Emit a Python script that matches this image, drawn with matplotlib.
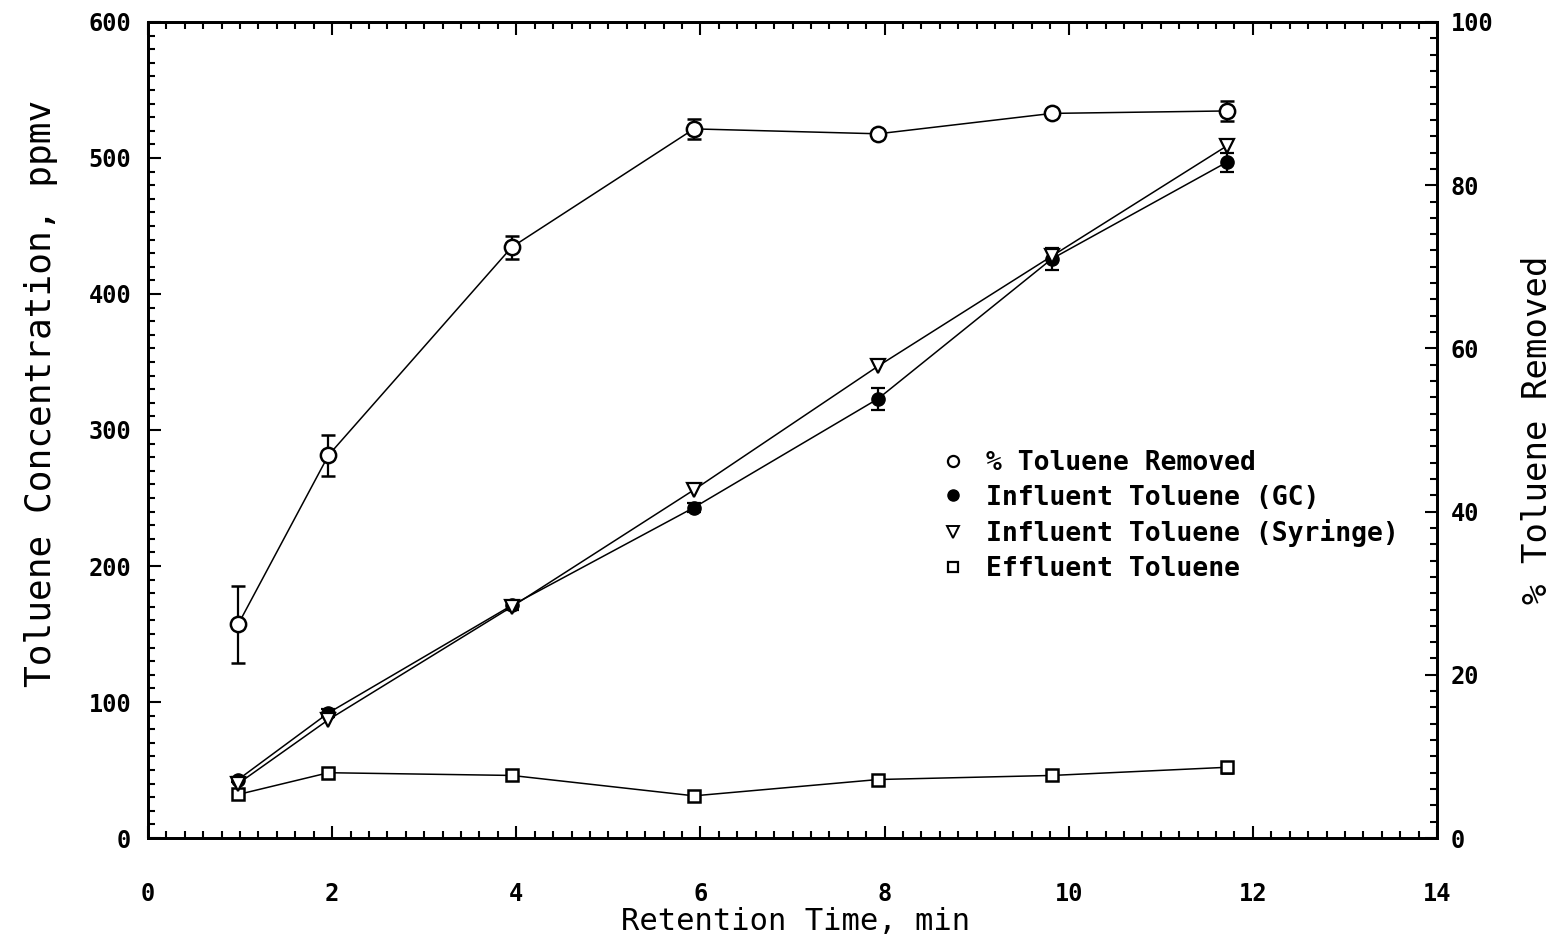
import numpy as np
import matplotlib
matplotlib.use("Agg")
import matplotlib.pyplot as plt
from matplotlib.ticker import MultipleLocator

plt.rcParams['font.family'] = 'DejaVu Sans Mono'
plt.rcParams['font.weight'] = 'bold'

# retention times, min
t = [0.98, 1.96, 3.95, 5.93, 7.93, 9.82, 11.72]

# % toluene removed (right axis)
pct_removed = [26.2, 46.9, 72.4, 86.9, 86.3, 88.8, 89.1]
pct_err = [4.7, 2.5, 1.4, 1.2, 0.0, 0.3, 1.2]

# toluene concentrations, ppmv (left axis)
infl_gc = [43, 92, 171, 243, 323, 426, 497]
infl_gc_err = [2, 3, 3, 3, 8, 8, 7]
infl_syr = [40, 87, 170, 256, 347, 428, 509]
effluent = [32, 48, 46, 31, 43, 46, 52]
effluent_err = [0, 0, 0, 0, 0, 0, 4]

fig = plt.figure(figsize=(15.6, 9.38), dpi=100)
ax = fig.add_axes([148 / 1560, 1 - 838 / 938, 1289 / 1560, 816 / 938])
ax2 = ax.twinx()

lw = 1.1
ax.errorbar(t, infl_gc, yerr=infl_gc_err, color='black', lw=lw, marker='o',
            ms=9.5, mfc='black', mec='black', ecolor='black', elinewidth=1.6,
            capsize=5, capthick=1.6, zorder=3)
ax.plot(t, infl_syr, color='black', lw=lw, marker='v', ms=10, mfc='white',
        mec='black', mew=1.6, zorder=4)
ax.errorbar(t, effluent, yerr=effluent_err, color='black', lw=lw, marker='s',
            ms=9, mfc='white', mec='black', mew=1.8, ecolor='black',
            elinewidth=1.6, capsize=4, capthick=1.6, zorder=3)
ax2.errorbar(t, pct_removed, yerr=pct_err, color='black', lw=lw, marker='o',
             ms=11, mfc='white', mec='black', mew=1.8, ecolor='black',
             elinewidth=1.6, capsize=5, capthick=1.6, zorder=3)

ax.set_xlim(0, 14)
ax.set_ylim(0, 600)
ax2.set_ylim(0, 100)

ax.xaxis.set_major_locator(MultipleLocator(2))
ax.xaxis.set_minor_locator(MultipleLocator(0.2))
ax.yaxis.set_major_locator(MultipleLocator(100))
ax.yaxis.set_minor_locator(MultipleLocator(10))
ax2.yaxis.set_major_locator(MultipleLocator(20))
ax2.yaxis.set_minor_locator(MultipleLocator(2))

ax.tick_params(axis='x', which='both', direction='in', top=True, bottom=True,
               width=1.5, labelsize=17, pad=32)
ax.tick_params(axis='y', which='both', direction='in', left=True, right=False,
               width=1.5, labelsize=17, pad=12)
ax2.tick_params(axis='y', which='both', direction='in', right=True,
                width=1.5, labelsize=17, pad=10)
for a in (ax, ax2):
    a.tick_params(which='major', length=9)
    a.tick_params(which='minor', length=5)
    for s in a.spines.values():
        s.set_linewidth(2.0)

ax.set_xlabel('Retention Time, min', fontsize=22)
ax.set_ylabel('Toluene Concentration, ppmv', fontsize=26)
ax2.set_ylabel('% Toluene Removed', fontsize=24.5)
ax.xaxis.set_label_coords(0.502, -0.084)
ax.yaxis.set_label_coords(-0.070, 0.545)
ax2.yaxis.set_label_coords(1.065, 0.5)

h1 = plt.Line2D([], [], ls='none', marker='o', ms=8, mfc='white', mec='black', mew=1.6)
h2 = plt.Line2D([], [], ls='none', marker='o', ms=8, mfc='black', mec='black')
h3 = plt.Line2D([], [], ls='none', marker='v', ms=8, mfc='white', mec='black', mew=1.4)
h4 = plt.Line2D([], [], ls='none', marker='s', ms=7, mfc='white', mec='black', mew=1.6)
leg = ax2.legend([h1, h2, h3, h4],
                 ['% Toluene Removed', 'Influent Toluene (GC)',
                  'Influent Toluene (Syringe)', 'Effluent Toluene'],
                 loc='upper left', bbox_to_anchor=(940 / 1560, 1 - 450 / 938),
                 bbox_transform=fig.transFigure, frameon=False, fontsize=19,
                 handlelength=1.0, handletextpad=0.75, labelspacing=0.33,
                 borderpad=0, borderaxespad=0)

fig.savefig('out.png', dpi=100)
